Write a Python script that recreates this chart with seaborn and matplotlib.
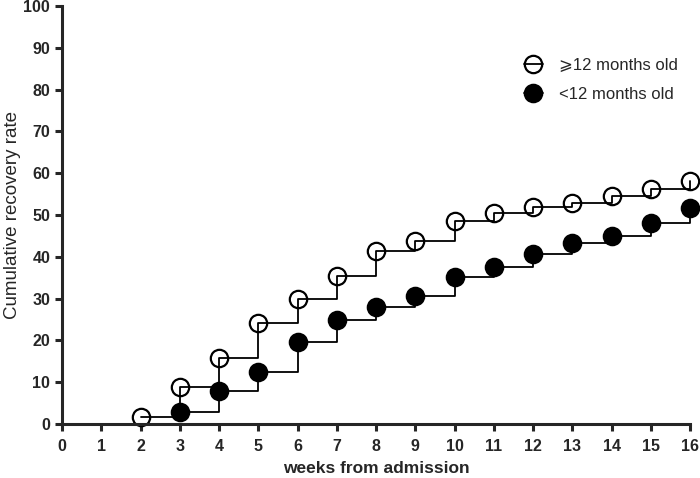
import numpy as np
import pandas as pd
import matplotlib
matplotlib.use('Agg')
import matplotlib.pyplot as plt
import seaborn as sns

# data
weeks_old = [2, 3, 4, 5, 6, 7, 8, 9, 10, 11, 12, 13, 14, 15, 16]
rate_old = [1.7, 8.8, 15.9, 24.2, 29.8, 35.4, 41.3, 43.8, 48.5, 50.5, 52.0, 52.8, 54.5, 56.2, 58.1]
weeks_young = [3, 4, 5, 6, 7, 8, 9, 10, 11, 12, 13, 14, 15, 16]
rate_young = [2.9, 8.0, 12.4, 19.5, 25.0, 27.9, 30.7, 35.2, 37.6, 40.6, 43.2, 45.0, 48.2, 51.6]
label_old = '⩾12 months old'
label_young = '<12 months old'

sns.set_style('ticks')
plt.rcParams['font.family'] = ['Liberation Sans', 'DejaVu Sans']

fig = plt.figure(figsize=(7, 4.78), dpi=100)
ax = fig.add_axes([62/700, 1-424/478, 628/700, 418/478])

sns.lineplot(x=weeks_old, y=rate_old, ax=ax, drawstyle='steps-post', color='black',
             lw=1.3, marker='o', markersize=12.5, markerfacecolor='none',
             markeredgecolor='black', markeredgewidth=1.6, label=label_old, clip_on=False)
sns.lineplot(x=weeks_young, y=rate_young, ax=ax, drawstyle='steps-post', color='black',
             lw=1.3, marker='o', markersize=12.5, markerfacecolor='black',
             markeredgecolor='black', markeredgewidth=1.6, label=label_young, clip_on=False)

ax.set_xlim(0, 16)
ax.set_ylim(0, 100)
ax.set_xticks(range(0, 17))
ax.set_yticks(range(0, 101, 10))
for s in ['top', 'right']:
    ax.spines[s].set_visible(False)
for s in ['left', 'bottom']:
    ax.spines[s].set_linewidth(2.2)
ax.tick_params(width=2.2, length=5, labelsize=11.5)
ax.tick_params(axis='x', pad=6)
for t in ax.get_xticklabels() + ax.get_yticklabels():
    t.set_fontweight('bold')
ax.set_xlabel('weeks from admission', fontsize=12.5, fontweight='bold', labelpad=5)
ax.set_ylabel('Cumulative recovery rate', fontsize=13.5, labelpad=2)

ax.legend(loc='upper right', bbox_to_anchor=(1.005, 0.912), frameon=False, fontsize=12,
          handlelength=1.1, handletextpad=1.0, labelspacing=0.85)

fig.savefig('out.png', dpi=100)
